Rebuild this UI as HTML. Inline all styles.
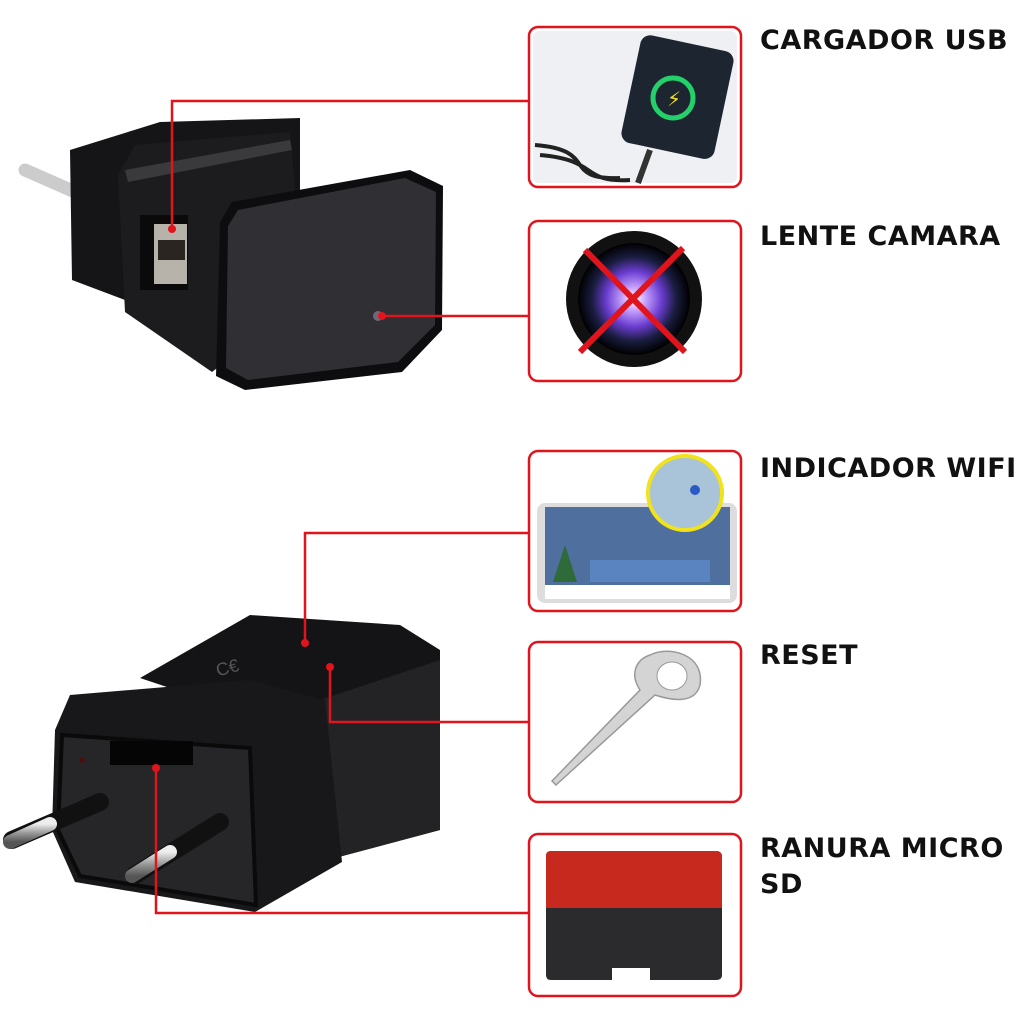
<!DOCTYPE html>
<html><head><meta charset="utf-8"><style>
html,body{margin:0;padding:0;background:#fff;width:1024px;height:1024px;overflow:hidden}
.lbl{position:absolute;left:760px;font-family:"DejaVu Sans","Liberation Sans",sans-serif;font-weight:bold;font-size:27px;color:#111;letter-spacing:0.5px;line-height:36px}
</style></head><body>
<svg width="1024" height="1024" style="position:absolute;left:0;top:0">
<defs>
<radialGradient id="lens" cx="50%" cy="50%" r="50%"><stop offset="0" stop-color="#fff"/><stop offset="0.2" stop-color="#c9a4ff"/><stop offset="0.5" stop-color="#6a3ccf"/><stop offset="0.75" stop-color="#1a1d40"/><stop offset="1" stop-color="#000"/></radialGradient>
<linearGradient id="pin" x1="0" y1="0" x2="0" y2="1"><stop offset="0" stop-color="#eee"/><stop offset="0.5" stop-color="#999"/><stop offset="1" stop-color="#555"/></linearGradient>
</defs>
<!-- top charger -->
<line x1="25" y1="170" x2="75" y2="192" stroke="#ccc" stroke-width="13" stroke-linecap="round"/>
<polygon points="70,150 160,122 300,118 300,290 125,300 72,280" fill="#151517"/>
<polygon points="118,175 135,145 290,132 305,300 212,372 125,312" fill="#1c1c1e"/>
<polygon points="125,170 290,140 292,150 128,182" fill="#3a3a3d"/>
<rect x="140" y="215" width="48" height="75" fill="#0a0a0a"/>
<rect x="154" y="224" width="33" height="60" fill="#b8b3aa"/>
<rect x="158" y="240" width="27" height="20" fill="#2a2520"/>
<polygon points="232,202 410,170 443,186 442,330 402,372 245,390 216,376 220,222" fill="#0d0d0f"/>
<polygon points="238,210 405,178 436,192 435,325 398,362 248,380 226,368 228,226" fill="#302f33"/>
<circle cx="378" cy="316" r="5" fill="#6e6878"/>
<!-- bottom charger -->
<polygon points="140,678 250,615 400,625 440,650 440,830 335,858 325,740" fill="#141416"/>
<polygon points="320,700 440,660 440,830 335,858" fill="#232326"/>
<polygon points="55,730 70,695 250,680 325,700 342,862 255,912 75,882 52,830" fill="#18181a"/>
<polygon points="62,735 250,748 256,905 80,876 58,830" fill="#262629" stroke="#0a0a0a" stroke-width="4"/>
<rect x="110" y="741" width="83" height="24" fill="#050505"/>
<circle cx="82" cy="760" r="3" fill="#4a1010"/>
<line x1="100" y1="802" x2="12" y2="840" stroke="#111" stroke-width="18" stroke-linecap="round"/>
<line x1="50" y1="824" x2="10" y2="842" stroke="url(#pin)" stroke-width="14" stroke-linecap="round"/>
<line x1="220" y1="822" x2="135" y2="875" stroke="#111" stroke-width="18" stroke-linecap="round"/>
<line x1="170" y1="852" x2="132" y2="876" stroke="url(#pin)" stroke-width="14" stroke-linecap="round"/>
<text x="215" y="665" font-family="Liberation Sans" font-size="18" fill="#555" transform="rotate(-15 260 660)">C€</text>
<!-- connectors -->
<g stroke="#e0141c" stroke-width="2.5" fill="none">
<polyline points="172,227 172,101 529,101"/>
<line x1="382" y1="316" x2="529" y2="316"/>
<polyline points="305,640 305,533 529,533"/>
<polyline points="330,665 330,722 529,722"/>
<polyline points="156,766 156,913 529,913"/>
</g>
<g fill="#e0141c"><circle cx="172" cy="229" r="4"/><circle cx="382" cy="316" r="4"/><circle cx="305" cy="643" r="4"/><circle cx="330" cy="667" r="4"/><circle cx="156" cy="768" r="4"/></g>
<!-- boxes -->
<g fill="#fff" stroke="#e0141c" stroke-width="2.5">
<rect x="529" y="27" width="212" height="160" rx="9"/>
<rect x="529" y="221" width="212" height="160" rx="9"/>
<rect x="529" y="451" width="212" height="160" rx="9"/>
<rect x="529" y="642" width="212" height="160" rx="9"/>
<rect x="529" y="834" width="212" height="162" rx="9"/>
</g>
<!-- phone -->
<rect x="533" y="31" width="204" height="152" rx="6" fill="#eef0f3"/>
<path d="M535,145 C600,150 560,180 620,178 M540,155 C600,160 580,183 630,180" stroke="#222" stroke-width="4" fill="none"/>
<line x1="650" y1="150" x2="638" y2="183" stroke="#333" stroke-width="6"/>
<rect x="630" y="42" width="95" height="110" rx="10" fill="#1d2530" transform="rotate(12 677 97)"/>
<circle cx="673" cy="98" r="20" fill="none" stroke="#23d06a" stroke-width="5"/>
<text x="667" y="106" font-size="20" fill="#f0e020" font-family="DejaVu Sans">⚡</text>
<!-- lens -->
<circle cx="634" cy="299" r="68" fill="#111"/>
<circle cx="634" cy="299" r="56" fill="url(#lens)"/>
<g stroke="#e0141c" stroke-width="6"><line x1="585" y1="250" x2="685" y2="352"/><line x1="683" y1="248" x2="580" y2="352"/></g>
<!-- wifi screen -->
<rect x="537" y="503" width="200" height="100" rx="8" fill="#ddd"/>
<rect x="545" y="507" width="185" height="78" fill="#4f6f9e"/>
<rect x="545" y="585" width="185" height="14" fill="#fff"/>
<polygon points="565,545 553,582 577,582" fill="#2e6a3a"/>
<rect x="590" y="560" width="120" height="22" fill="#5a84c0"/>
<circle cx="685" cy="493" r="37" fill="#a9c4d8" stroke="#f2e21c" stroke-width="4"/>
<circle cx="695" cy="490" r="5" fill="#2b5ac4"/>
<!-- reset pin -->
<path d="M650,655 C670,645 705,655 700,685 C695,705 670,700 655,695 L556,785 L552,781 L640,690 C630,675 635,660 650,655 Z" fill="#d4d4d4" stroke="#999" stroke-width="1.5"/>
<ellipse cx="672" cy="676" rx="15" ry="14" fill="#fff" stroke="#999"/>
<!-- SD -->
<path d="M546,856 Q546,851 551,851 L716,851 Q722,851 722,857 L722,975 Q722,980 716,980 L650,980 L650,968 L612,968 L612,980 L551,980 Q546,980 546,975 Z" fill="#2b2b2d"/>
<path d="M546,856 Q546,851 551,851 L716,851 Q722,851 722,857 L722,908 L546,908 Z" fill="#c8291f"/>
</svg>
<div class="lbl" style="top:23px">CARGADOR USB</div>
<div class="lbl" style="top:219px">LENTE CAMARA</div>
<div class="lbl" style="top:451px">INDICADOR WIFI</div>
<div class="lbl" style="top:638px">RESET</div>
<div class="lbl" style="top:831px">RANURA MICRO<br>SD</div>
</body></html>
